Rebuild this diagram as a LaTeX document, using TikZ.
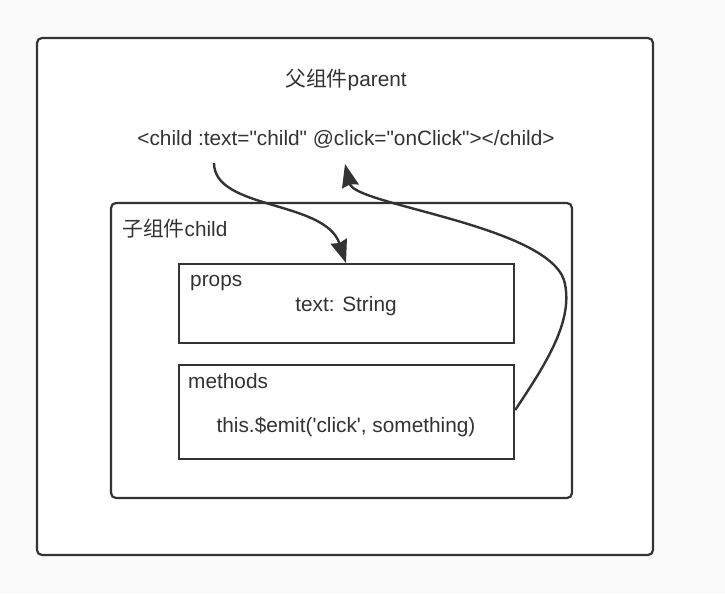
\documentclass[tikz,border=0pt]{standalone}
\usepackage{fontspec}
\newfontfamily\lat{Liberation Sans}
\newfontfamily\cjk{Noto Sans CJK SC}
\usetikzlibrary{arrows.meta}
\definecolor{ink}{HTML}{333333}
\definecolor{bg}{HTML}{FAFAFA}
\tikzset{
  frame/.style={draw=ink, line width=2.2pt, rounded corners=5pt, fill=white},
  box/.style={draw=ink, line width=2.2pt, fill=white},
  lbl/.style={text=ink, font=\lat\fontsize{20.8}{25}\selectfont, inner sep=0pt},
  flow/.style={draw=ink, line width=2.4pt, -{Stealth[length=23pt,width=17pt,inset=2pt]}},
}
\begin{document}
\begin{tikzpicture}[x=1pt,y=-1pt]
\fill[bg] (0,0) rectangle (725,594);
\useasboundingbox (0,0) rectangle (725,594);
\draw[frame] (37,38) rectangle (653,555);
\node[lbl] (ptitle) at (346,80) {{\cjk 父组件}parent};
\node[lbl] (tag) at (346,139) {<child :text="child" @click="onClick"></child>};
\draw[frame] (111,203) rectangle (572,498);
\node[lbl, anchor=west] (ctitle) at (122,229) {{\cjk 子组件}child};
\node[box, minimum width=335pt, minimum height=79pt, anchor=north west] (props) at (178,263) {};
\node[lbl, anchor=west] (plbl) at (190,283) {props};
\node[lbl] (ptext) at (346,306) {text: String};
\node[box, minimum width=335pt, minimum height=94pt, anchor=north west] (methods) at (178,364) {};
\node[lbl, anchor=west] (mlbl) at (188,381) {methods};
\node[lbl] (mtext) at (346,427) {this.\$emit('click', something)};
\coordinate (down0) at (214,163);
\coordinate (up1) at (345,164);
\draw[flow] (down0) .. controls (214,210) and (325,200) .. (props.north -| 346,0);
\draw[flow] (methods.east |- 0,410) .. controls (545,365) and (575,320) .. (564,280)
  .. controls (545,225) and (355,205) .. (up1);
\end{tikzpicture}
\end{document}
